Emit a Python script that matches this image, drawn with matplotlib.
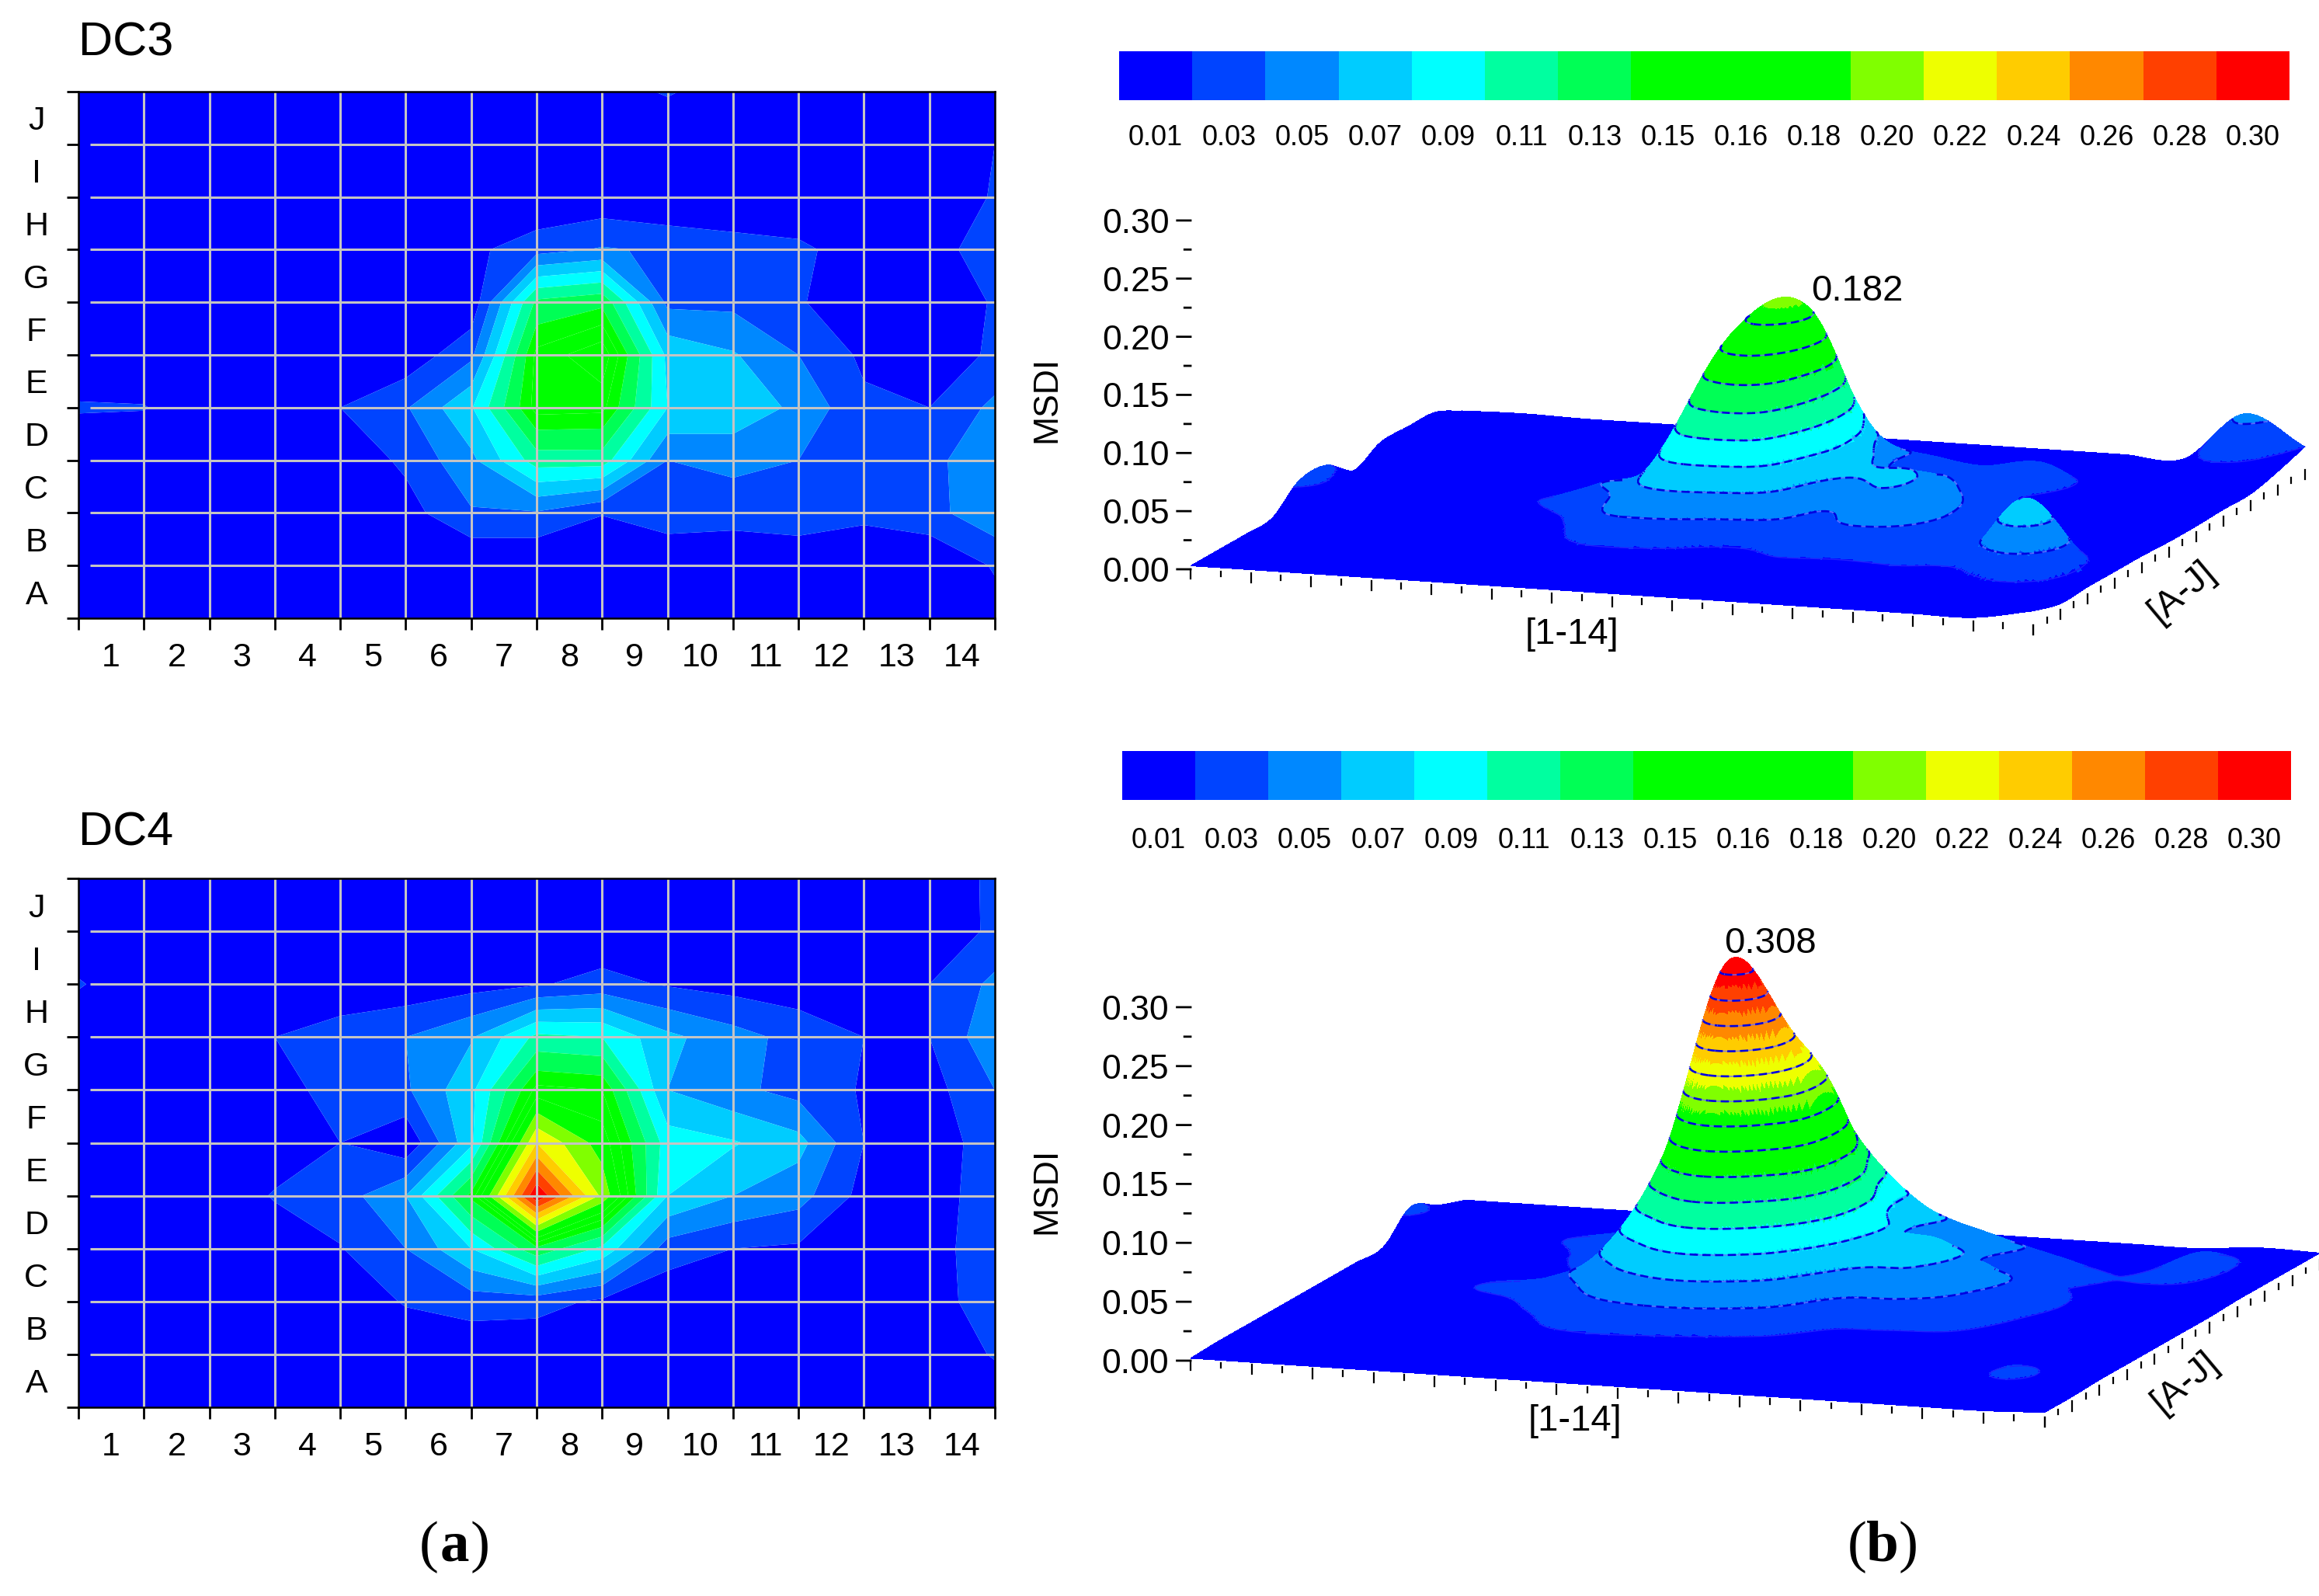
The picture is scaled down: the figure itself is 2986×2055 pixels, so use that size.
import matplotlib
matplotlib.use("Agg")
import matplotlib.pyplot as plt
from matplotlib.colors import ListedColormap, to_rgba
from mpl_toolkits.mplot3d import proj3d
from contourpy import contour_generator
import numpy as np

plt.rcParams['font.family'] = ['Liberation Sans', 'DejaVu Sans']

W, H = 2986, 2055
DPI = 200
ELEV, AZIM = 11.2, -71.2
BOX = (1146, 1085, 473)
ZTOP = 0.31

# colour key
band_colors = ['#0000ff', '#0044ff', '#0088ff', '#00ccff', '#00ffff', '#00ffa0', '#00ff55', '#00ff00',
               '#00ff00', '#00ff00', '#80ff00', '#eeff00', '#ffcc00', '#ff8800', '#ff4000', '#ff0000']
band_labels = ['0.01', '0.03', '0.05', '0.07', '0.09', '0.11', '0.13', '0.15',
               '0.16', '0.18', '0.20', '0.22', '0.24', '0.26', '0.28', '0.30']
band_edges = [0.02, 0.04, 0.06, 0.08, 0.10, 0.12, 0.14, 0.155, 0.17, 0.19, 0.21, 0.23, 0.25, 0.27, 0.29]
line_levels = [0.02, 0.04, 0.06, 0.08, 0.10, 0.12, 0.14, 0.16, 0.18, 0.20, 0.22, 0.24, 0.26, 0.28, 0.30]

col_labels = [str(i) for i in range(1, 15)]
row_labels = list('ABCDEFGHIJ')
z_ticks = [0.00, 0.05, 0.10, 0.15, 0.20, 0.25, 0.30]

# MSDI at the grid nodes, first row is the bottom line (A), last is the top line
dc3 = [
    [.003, .003, .003, .003, .003, .003, .003, .003, .003, .003, .003, .003, .003, .003, .012],
    [.003, .003, .003, .003, .003, .000, .000, .000, .002, .008, .000, .007, .000, .002, .022],
    [.003, .003, .003, .003, .004, .012, .038, .038, .021, .028, .030, .030, .026, .033, .055],
    [.004, .004, .004, .004, .006, .024, .055, .110, .110, .040, .045, .040, .030, .033, .058],
    [.022, .021, .006, .005, .020, .038, .078, .162, .160, .080, .075, .055, .024, .020, .045],
    [.005, .005, .005, .005, .006, .006, .035, .160, .182, .075, .062, .040, .016, .006, .024],
    [.005, .005, .005, .005, .005, .005, .005, .125, .135, .035, .035, .022, .006, .005, .022],
    [.005, .005, .005, .005, .005, .005, .015, .032, .042, .037, .030, .025, .008, .012, .030],
    [.002, .002, .002, .002, .002, .002, .002, .000, .005, .000, .000, .000, .002, .005, .022],
    [.002, .002, .002, .002, .002, .002, .002, .002, .002, .002, .002, .002, .002, .004, .020],
    [.003, .003, .003, .003, .003, .003, .003, .003, .012, .022, .010, .003, .003, .003, .012],
]
dc4 = [
    [.002, .002, .002, .002, .002, .002, .002, .002, .002, .002, .002, .002, .002, .002, .004],
    [.003, .003, .003, .003, .003, .003, .003, .003, .003, .003, .003, .003, .003, .005, .022],
    [.003, .003, .003, .003, .005, .022, .030, .028, .016, .006, .005, .005, .005, .012, .030],
    [.003, .003, .003, .005, .019, .040, .080, .135, .095, .030, .020, .017, .007, .010, .035],
    [.003, .003, .003, .022, .030, .060, .145, .308, .205, .080, .060, .048, .013, .007, .035],
    [.003, .003, .003, .006, .020, .003, .075, .230, .180, .090, .082, .067, .020, .007, .032],
    [.003, .003, .003, .010, .030, .037, .075, .160, .155, .060, .045, .033, .018, .012, .040],
    [.003, .003, .003, .020, .030, .040, .058, .105, .100, .065, .048, .033, .020, .020, .055],
    [.022, .005, .004, .004, .005, .006, .012, .018, .027, .018, .012, .008, .006, .020, .045],
    [.004, .003, .003, .003, .003, .003, .003, .003, .004, .003, .003, .003, .003, .006, .024],
    [.003, .003, .003, .003, .003, .003, .003, .003, .003, .003, .003, .003, .003, .007, .024],
]

# (column node, row node, value) where the 3D surface differs from the contour map
dc3_surface = [(13, 2, .078), (12, 2, .03), (14, 1, .005), (14, 2, .006), (14, 3, .006), (14, 4, .006), (14, 5, .005),
               (13, 3, .03), (13, 4, .012), (13, 1, .018), (10, 3, .055), (11, 7, .036),
               (14, 6, .005), (14, 7, .006), (14, 8, .006), (14, 9, .012), (14, 10, .02), (13, 10, .045), (13, 9, .025),
               (0, 4, .023), (0, 5, .023), (1, 4, .012), (0, 7, .016), (0, 8, .016), (0, 9, .015), (0, 10, .003),
               (1, 8, .012), (1, 9, .010), (1, 10, .004), (8, 10, .003), (9, 10, .003), (10, 10, .003),
               (8, 5, .186), (7, 5, .165), (7, 4, .16), (9, 4, .07), (9, 5, .065), (6, 4, .06), (7, 6, .11), (8, 6, .12),
               (10, 4, .065), (10, 5, .05), (11, 4, .04), (11, 5, .03)]
dc4_surface = [(14, 1, .004), (14, 2, .005), (14, 3, .005), (14, 4, .005), (14, 5, .005), (14, 6, .005),
               (14, 7, .006), (14, 8, .006), (14, 9, .006), (14, 10, .006), (13, 7, .025), (13, 8, .03), (13, 9, .012),
               (13, 6, .008), (13, 1, .025), (0, 8, .024), (0, 9, .012), (0, 10, .003), (1, 8, .008), (5, 5, .025),
               (8, 5, .215), (8, 4, .21), (11, 4, .035), (11, 5, .045), (10, 5, .07), (11, 6, .025)]


def fx(px):
    return px / W


def fy(py):
    return 1 - py / H


def px_axes(fig, left, top, right, bottom, **kw):
    return fig.add_axes([fx(left), fy(bottom), (right - left) / W, (bottom - top) / H], **kw)


def contour_panel(fig, rect, z, title, title_y):
    ax = px_axes(fig, *rect)
    x = np.arange(15)
    y = np.arange(11)
    ax.contourf(x, y, np.array(z), levels=[-1] + band_edges + [1], colors=band_colors, antialiased=True)
    ax.set_xlim(0, 14)
    ax.set_ylim(0, 10)
    ax.set_xticks(x)
    ax.set_yticks(y)
    ax.set_xticklabels([])
    ax.set_yticklabels([])
    ax.set_xticks(x[:-1] + 0.5, minor=True)
    ax.set_yticks(y[:-1] + 0.5, minor=True)
    ax.set_xticklabels(col_labels, minor=True, fontsize=15.5)
    ax.set_yticklabels(row_labels, minor=True, fontsize=15.5, ha='center')
    ax.tick_params(which='major', length=5.5, width=1.0, color='black')
    ax.tick_params(which='minor', length=0)
    ax.tick_params(axis='x', which='minor', pad=11)
    ax.tick_params(axis='y', which='minor', pad=19.5)
    ax.vlines(x[1:-1], 0, 10, color='#c4c4c4', lw=1.1, zorder=3)
    ax.hlines(y[1:-1], 0.18, 14, color='#c4c4c4', lw=1.1, zorder=3)
    for s in ax.spines.values():
        s.set_linewidth(0.9)
        s.set_zorder(4)
    fig.text(fx(rect[0]), fy(title_y), title, fontsize=22, ha='left', va='center')


def color_key(fig, rect, label_y):
    ax = px_axes(fig, *rect)
    ax.pcolormesh(np.arange(17), [0, 1], np.arange(16).reshape(1, -1), cmap=ListedColormap(band_colors),
                  vmin=-0.5, vmax=15.5)
    ax.set_xticks(np.arange(16) + 0.5)
    ax.set_xticklabels(band_labels, fontsize=13)
    ax.set_yticks([])
    ax.tick_params(axis='x', length=0, pad=(label_y - rect[3] - 15) * 72 / DPI)
    for s in ax.spines.values():
        s.set_visible(False)


def cubic_axis(a, n):
    # Hermite spline along the first axis, goes through the node values
    m = np.gradient(a, axis=0)
    N = a.shape[0]
    s = np.linspace(0, N - 1, (N - 1) * n + 1)
    i = np.minimum(s.astype(int), N - 2)
    t = (s - i).reshape((-1,) + (1,) * (a.ndim - 1))
    return ((2 * t**3 - 3 * t**2 + 1) * a[i] + (t**3 - 2 * t**2 + t) * m[i]
            + (-2 * t**3 + 3 * t**2) * a[i + 1] + (t**3 - t**2) * m[i + 1])


def to_display(ax, x, y, z):
    vx, vy, _ = proj3d.proj_transform(x, y, z, ax.get_proj())
    return ax.transData.transform((vx, vy))


def visible(pts, xs, ys, zz):
    # walk from each point towards the viewer, hidden if the surface gets above the ray
    az, el = np.radians(AZIM), np.radians(ELEV)
    ok = np.ones(len(pts), bool)
    for s in np.arange(6, 1500, 6.0):
        px = pts[:, 0] + np.cos(az) * s * 14 / BOX[0]
        py = pts[:, 1] + np.sin(az) * s * 10 / BOX[1]
        pz = pts[:, 2] + np.tan(el) * s * ZTOP / BOX[2]
        inside = (px >= 0) & (px <= 14) & (py >= 0) & (py <= 10)
        if not inside.any():
            break
        ix = np.rint(px[inside] * (len(xs) - 1) / 14).astype(int)
        iy = np.searchsorted(ys, py[inside]).clip(0, len(ys) - 1)
        blocked = zz[iy, ix] > pz[inside] + 0.0008
        idx = np.flatnonzero(inside)
        ok[idx[blocked]] = False
    return ok


def surface_lines(ax, xs, ys, zz):
    gen = contour_generator(xs, ys, zz)
    for lv in line_levels:
        for line in gen.lines(lv):
            pts = np.column_stack([line, np.full(len(line), lv)])
            vis = visible(pts, xs, ys, zz)
            # break the polyline where it goes out of sight
            cut = np.flatnonzero(np.diff(vis.astype(int))) + 1
            for run in np.split(np.arange(len(pts)), cut):
                if len(run) < 2 or not vis[run[0]]:
                    continue
                p = pts[run]
                if lv < 0.03:
                    ax.plot(p[:, 0], p[:, 1], p[:, 2], color='#2020ff', lw=0.5, zorder=2)
                    continue
                ax.plot(p[:, 0], p[:, 1], p[:, 2], color='#6c6cff', lw=0.6, alpha=0.8, zorder=2)
                ax.plot(p[:, 0], p[:, 1], p[:, 2], color='#0000e0', lw=0.95, ls=(0, (4, 2.2)), zorder=2)


def surface_panel(fig, z, changes, corner, right_end, labels):
    ax = fig.add_axes([0.5, 0.3, 0.4, 0.4], projection='3d', computed_zorder=False)
    ax.set_proj_type('ortho')
    ax.view_init(elev=ELEV, azim=AZIM)
    ax.set_xlim(0, 14)
    ax.set_ylim(0, 10)
    ax.set_zlim(0, ZTOP)
    ax.set_box_aspect(BOX)
    ax.set_axis_off()
    ax.patch.set_visible(False)

    # fit the floor's front edge onto its place in the picture
    want = np.array([corner[0], H - corner[1]], float)
    want_end = np.array([right_end[0], H - right_end[1]], float)
    side = 0.4 * W
    cx, cy = 0.7 * W, 0.5 * H
    for _ in range(3):
        ax.set_position([(cx - side / 2) / W, (cy - side / 2) / H, side / W, side / H])
        ax.apply_aspect()
        p0 = to_display(ax, 0, 0, 0)
        p1 = to_display(ax, 14, 0, 0)
        k = np.linalg.norm(want_end - want) / np.linalg.norm(p1 - p0)
        side *= k
        ax.set_position([(cx - side / 2) / W, (cy - side / 2) / H, side / W, side / H])
        ax.apply_aspect()
        p0 = to_display(ax, 0, 0, 0)
        cx += want[0] - p0[0]
        cy += want[1] - p0[1]
    ax.set_position([(cx - side / 2) / W, (cy - side / 2) / H, side / W, side / H])
    ax.apply_aspect()

    nodes = np.array(z, float)
    for c, r, v in changes:
        nodes[r, c] = v
    # finer rows across the steep front of the peak
    zz = cubic_axis(cubic_axis(nodes, 60).T, 20).T
    ys = np.linspace(0, 10, zz.shape[0])
    keep = (np.arange(len(ys)) % 3 == 0) | ((ys > 2.0) & (ys < 5.6))
    zz = np.clip(zz[keep], 0, None)
    ys = ys[keep]
    xs = np.linspace(0, 14, zz.shape[1])
    xx, yy = np.meshgrid(xs, ys)

    cells = (zz[:-1, :-1] + zz[1:, :-1] + zz[:-1, 1:] + zz[1:, 1:]) / 4
    rgba = np.array([to_rgba(c) for c in band_colors])
    faces = rgba[np.digitize(cells, band_edges)]
    ax.plot_surface(xx, yy, zz, facecolors=faces, rstride=1, cstride=1, shade=False,
                    antialiased=False, linewidth=0, zorder=1)
    surface_lines(ax, xs, ys, zz)

    # axis ticks, the vertical one has no line of its own
    for t in np.arange(0, 0.301, 0.025):
        major = round(t / 0.05, 3) == round(t / 0.05)
        d = 1.0 if major else 0.45
        ax.plot([0, -0.20 * d], [0, -0.05 * d], [t, t], color='black', lw=1.0, zorder=3)
    for t in z_ticks:
        p = to_display(ax, -0.32, -0.08, t)
        fig.text(p[0] / W, p[1] / H, f'{t:.2f}', fontsize=16, ha='right', va='center_baseline')
    for i, t in enumerate(np.arange(0, 14.01, 0.5)):
        d = 0.008 if i % 2 == 0 else 0.0045
        ax.plot([t, t], [0, 0], [0, -d], color='black', lw=0.8, zorder=3)
    for i, t in enumerate(np.arange(0, 10.01, 0.5)):
        d = 0.008 if i % 2 == 0 else 0.0045
        ax.plot([14, 14], [t, t], [0, -d], color='black', lw=0.8, zorder=3)

    for txt, px, py, rot, size in labels:
        fig.text(fx(px), fy(py), txt, fontsize=size, rotation=rot, ha='center', va='center')


def panel_letter(fig, letter, px, py):
    half = 0.0068
    fig.text(fx(px) - half, fy(py), '(', family='Liberation Serif', fontsize=27, ha='right', va='center')
    fig.text(fx(px), fy(py), letter, family='Liberation Serif', fontweight='bold', fontsize=27, ha='center', va='center')
    fig.text(fx(px) + half, fy(py), ')', family='Liberation Serif', fontsize=27, ha='left', va='center')


fig = plt.figure(figsize=(W / DPI, H / DPI), dpi=DPI, facecolor='white')

contour_panel(fig, (101, 118, 1281, 796), dc3, 'DC3', 56)
contour_panel(fig, (101, 1131, 1281, 1812), dc4, 'DC4', 1073)

color_key(fig, (1441, 66, 2948, 129), 175)
color_key(fig, (1445, 967, 2950, 1030), 1080)

surface_panel(fig, dc3, dc3_surface, (1533, 733), (2618, 805),
              [('MSDI', 1348, 514, 90, 16), ('[1-14]', 2024, 817, 0, 17), ('[A-J]', 2810, 762, 40, 17),
               ('0.182', 2391, 375, 0, 17)])
surface_panel(fig, dc4, dc4_surface, (1533, 1752), (2633, 1818),
              [('MSDI', 1348, 1533, 90, 16), ('[1-14]', 2028, 1830, 0, 17), ('[A-J]', 2814, 1780, 40, 17),
               ('0.308', 2279, 1215, 0, 17)])

panel_letter(fig, 'a', 585, 1992)
panel_letter(fig, 'b', 2424, 1992)

fig.savefig('out.png', dpi=DPI)
